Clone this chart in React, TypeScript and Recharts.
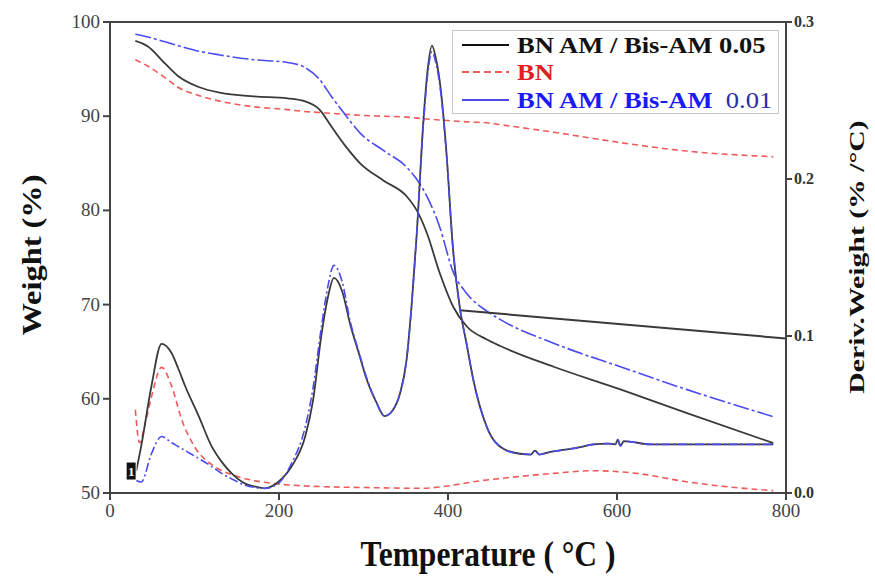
import React from "react";
import { LineChart, Line, XAxis, YAxis, ReferenceLine, ReferenceDot } from "recharts";

// TGA (weight %) curves, left axis
const tgaTemp = [30, 45, 65, 80, 105, 130, 170, 210, 230, 248, 262, 278, 296, 323, 351, 363, 375, 390, 406, 422, 446, 462, 525, 604, 682, 785];
const tgaBlack = [98.0, 97.4, 95.6, 94.3, 93.1, 92.5, 92.1, 91.9, 91.6, 90.7, 88.9, 86.9, 85.0, 83.2, 81.5, 80.0, 77.6, 73.4, 69.8, 67.7, 66.3, 65.6, 63.4, 61.0, 58.5, 55.3];
const tgaRed = [96.0, 95.3, 94.1, 93.1, 92.2, 91.6, 91.0, 90.7, 90.5, 90.4, 90.3, 90.2, 90.1, 90.0, 89.9, 89.8, 89.7, 89.6, 89.5, 89.4, 89.3, 89.1, 88.3, 87.2, 86.3, 85.7];
const tgaBlue = [98.7, 98.4, 97.9, 97.5, 96.9, 96.5, 96.0, 95.7, 95.2, 93.9, 92.1, 90.2, 88.2, 86.4, 84.6, 83.3, 81.5, 78.3, 73.5, 71.2, 69.3, 68.4, 65.9, 63.4, 61.0, 58.1];

// straight black segment after the main step
const segTemp = [414, 800];
const segWeight = [69.4, 66.4];

// DTG (deriv. weight %/°C) curves, right axis
const dtgTemp = [31, 37, 49, 61, 73, 81, 89, 105, 120, 132, 144, 160, 172, 183, 199, 215, 231, 240, 250, 258, 265, 275, 284, 295, 304, 315, 325, 335, 343, 351, 357, 363, 371, 376, 381, 386, 391, 398, 406, 414, 422, 430, 446, 466, 485, 498, 503, 508, 520, 536, 555, 572, 590, 598, 601, 604, 608, 640, 682, 720, 750, 785];
const dtgBlack = [0.014, 0.030, 0.068, 0.095, 0.089, 0.079, 0.068, 0.049, 0.030, 0.020, 0.0125, 0.006, 0.004, 0.003, 0.007, 0.017, 0.036, 0.058, 0.100, 0.125, 0.137, 0.128, 0.108, 0.088, 0.072, 0.058, 0.049, 0.053, 0.063, 0.085, 0.120, 0.165, 0.238, 0.270, 0.285, 0.276, 0.259, 0.218, 0.155, 0.118, 0.095, 0.072, 0.042, 0.028, 0.025, 0.0245, 0.027, 0.0245, 0.026, 0.0274, 0.029, 0.031, 0.0315, 0.031, 0.034, 0.030, 0.033, 0.031, 0.031, 0.031, 0.031, 0.031];
const dtgBlue = [0.008, 0.007, 0.025, 0.036, 0.032, 0.0295, 0.027, 0.022, 0.017, 0.0125, 0.009, 0.005, 0.0035, 0.003, 0.006, 0.019, 0.042, 0.066, 0.105, 0.132, 0.145, 0.134, 0.110, 0.089, 0.073, 0.058, 0.049, 0.053, 0.063, 0.085, 0.120, 0.165, 0.236, 0.267, 0.281, 0.273, 0.257, 0.217, 0.155, 0.118, 0.095, 0.072, 0.042, 0.028, 0.025, 0.0245, 0.027, 0.0245, 0.026, 0.0274, 0.029, 0.031, 0.0315, 0.031, 0.034, 0.030, 0.033, 0.031, 0.031, 0.031, 0.031, 0.031];
const dtgRedTemp = [30, 35, 42, 49, 61, 73, 85, 100, 124, 152, 191, 231, 254, 300, 367, 446, 525, 572, 623, 682, 730, 785];
const dtgRed = [0.053, 0.032, 0.045, 0.061, 0.080, 0.068, 0.0465, 0.0295, 0.0168, 0.0104, 0.0062, 0.0045, 0.004, 0.0035, 0.003, 0.0083, 0.0125, 0.0142, 0.0125, 0.0072, 0.004, 0.0015];

const xTicks = [0, 200, 400, 600, 800];
const leftTicks = [50, 60, 70, 80, 90, 100];
const rightTicks = [0, 0.1, 0.2, 0.3];

const zip = (t: number[], v: number[]) => t.map((x, i) => ({ t: x, v: v[i] }));

const BLACK = "#3a3a3a";
const RED = "#f05a5a";
const BLUE = "#4b4bf0";
const AXIS = "#444";
const SERIF = '"Liberation Serif", "DejaVu Serif", serif';

const LeftTick = ({ x, y, payload }: any) => (
  <text x={x} y={y} dy={6} textAnchor="end" fontSize={19} fill="#444" fontFamily={SERIF}>
    {payload.value}
  </text>
);
const RightTick = ({ x, y, payload }: any) => (
  <text x={x} y={y} dy={5} textAnchor="start" fontSize={16} fontWeight="bold" fill="#333" fontFamily={SERIF}>
    {Number(payload.value).toFixed(1)}
  </text>
);
const BottomTick = ({ x, y, payload }: any) => (
  <text x={x} y={y} dy={15} textAnchor="middle" fontSize={19} fill="#444" fontFamily={SERIF}>
    {payload.value}
  </text>
);

const MarkerOne = ({ cx, cy }: any) => (
  <g>
    <rect x={cx - 5} y={cy - 9} width={10} height={18} fill="#111" stroke="#fff" strokeWidth={1} />
    <text x={cx} y={cy + 5} textAnchor="middle" fontSize={13} fill="#fff" fontFamily={SERIF} fontWeight="bold">1</text>
  </g>
);

const legendRows = [
  { color: "#111", dash: "", parts: [{ t: "BN AM / Bis-AM 0.05", c: "#111", w: "bold" }] },
  { color: RED, dash: "7 4", parts: [{ t: "BN", c: "#e02020", w: "bold" }] },
  { color: BLUE, dash: "", parts: [{ t: "BN AM / Bis-AM", c: "#1a1af5", w: "bold" }, { t: "\u00a0 0.01", c: "#2c2ca8", w: "normal" }] },
];

export default function App() {
  return (
    <div style={{ position: "absolute", left: 0, top: 0, width: 875, height: 578, background: "#fff", fontFamily: SERIF }}>
      <LineChart width={875} height={578} margin={{ top: 22, right: 29, bottom: 45, left: 50 }}>
        <XAxis
          type="number"
          dataKey="t"
          domain={[0, 800]}
          ticks={xTicks}
          tick={<BottomTick />}
          tickSize={7}
          tickLine={{ stroke: AXIS, strokeWidth: 2 }}
          axisLine={{ stroke: AXIS, strokeWidth: 2 }}
          height={40}
          allowDataOverflow
        />
        <YAxis
          yAxisId="left"
          domain={[50, 100]}
          ticks={leftTicks}
          tick={<LeftTick />}
          tickSize={7}
          tickMargin={3}
          tickLine={{ stroke: AXIS, strokeWidth: 2 }}
          axisLine={{ stroke: AXIS, strokeWidth: 2 }}
          width={60}
          allowDataOverflow
        />
        <YAxis
          yAxisId="right"
          orientation="right"
          domain={[0, 0.3]}
          ticks={rightTicks}
          tick={<RightTick />}
          tickSize={6}
          tickMargin={2}
          tickLine={{ stroke: AXIS, strokeWidth: 2 }}
          axisLine={{ stroke: AXIS, strokeWidth: 2 }}
          width={60}
          allowDataOverflow
        />
        <ReferenceLine yAxisId="left" y={100} stroke={AXIS} strokeWidth={2} />

        <Line yAxisId="left" data={zip(tgaTemp, tgaRed)} dataKey="v" type="monotone" stroke={RED} strokeWidth={1.6} strokeDasharray="6 4" dot={false} activeDot={false} isAnimationActive={false} />
        <Line yAxisId="left" data={zip(tgaTemp, tgaBlack)} dataKey="v" type="monotone" stroke={BLACK} strokeWidth={1.8} dot={false} activeDot={false} isAnimationActive={false} />
        <Line yAxisId="left" data={zip(tgaTemp, tgaBlue)} dataKey="v" type="monotone" stroke={BLUE} strokeWidth={1.6} strokeDasharray="16 3 3 3" dot={false} activeDot={false} isAnimationActive={false} />
        <Line yAxisId="left" data={zip(segTemp, segWeight)} dataKey="v" type="linear" stroke={BLACK} strokeWidth={2} dot={false} activeDot={false} isAnimationActive={false} />

        <Line yAxisId="right" data={zip(dtgRedTemp, dtgRed)} dataKey="v" type="monotone" stroke={RED} strokeWidth={1.6} strokeDasharray="6 4" dot={false} activeDot={false} isAnimationActive={false} />
        <Line yAxisId="right" data={zip(dtgTemp, dtgBlack)} dataKey="v" type="monotone" stroke={BLACK} strokeWidth={1.8} dot={false} activeDot={false} isAnimationActive={false} />
        <Line yAxisId="right" data={zip(dtgTemp, dtgBlue)} dataKey="v" type="monotone" stroke={BLUE} strokeWidth={1.6} strokeDasharray="9 3 2 3" dot={false} activeDot={false} isAnimationActive={false} />

        <ReferenceDot yAxisId="right" x={25} y={0.014} r={6} shape={<MarkerOne />} />
      </LineChart>

      {/* legend */}
      <div style={{ position: "absolute", left: 452, top: 30, width: 325, height: 82, border: "1px solid #c8c8c8", background: "#fff" }}>
        {legendRows.map((row, i) => (
          <div key={i} style={{ position: "absolute", left: 8, top: 0 + i * 27.5, height: 27, display: "flex", alignItems: "center", whiteSpace: "nowrap" }}>
            <svg width={50} height={10} style={{ marginRight: 6 }}>
              <line x1={1} y1={5} x2={48} y2={5} stroke={row.color} strokeWidth={2} strokeDasharray={row.dash} />
            </svg>
            <div style={{ transform: "scaleX(1.13)", transformOrigin: "left center", whiteSpace: "nowrap" }}>
              {row.parts.map((p, j) => (
                <span key={j} style={{ color: p.c, fontWeight: p.w as any, fontSize: 23.5, lineHeight: "26px" }}>{p.t}</span>
              ))}
            </div>
          </div>
        ))}
      </div>

      {/* axis titles */}
      <div style={{ position: "absolute", left: 32, top: 255, transform: "translate(-50%, -50%) rotate(-90deg) scaleX(1.2)", fontSize: 27, fontWeight: "bold", whiteSpace: "nowrap", color: "#111" }}>
        Weight (%)
      </div>
      <div style={{ position: "absolute", left: 857, top: 257, transform: "translate(-50%, -50%) rotate(-90deg) scaleX(1.35)", fontSize: 22, fontWeight: "bold", whiteSpace: "nowrap", color: "#111" }}>
        Deriv.Weight (% /°C)
      </div>
      <div style={{ position: "absolute", left: 488, top: 555, transform: "translate(-50%, -50%) scaleY(1.12)", fontSize: 31.5, lineHeight: "32px", fontWeight: "bold", whiteSpace: "nowrap", color: "#111" }}>
        Temperature ( °C )
      </div>
    </div>
  );
}
